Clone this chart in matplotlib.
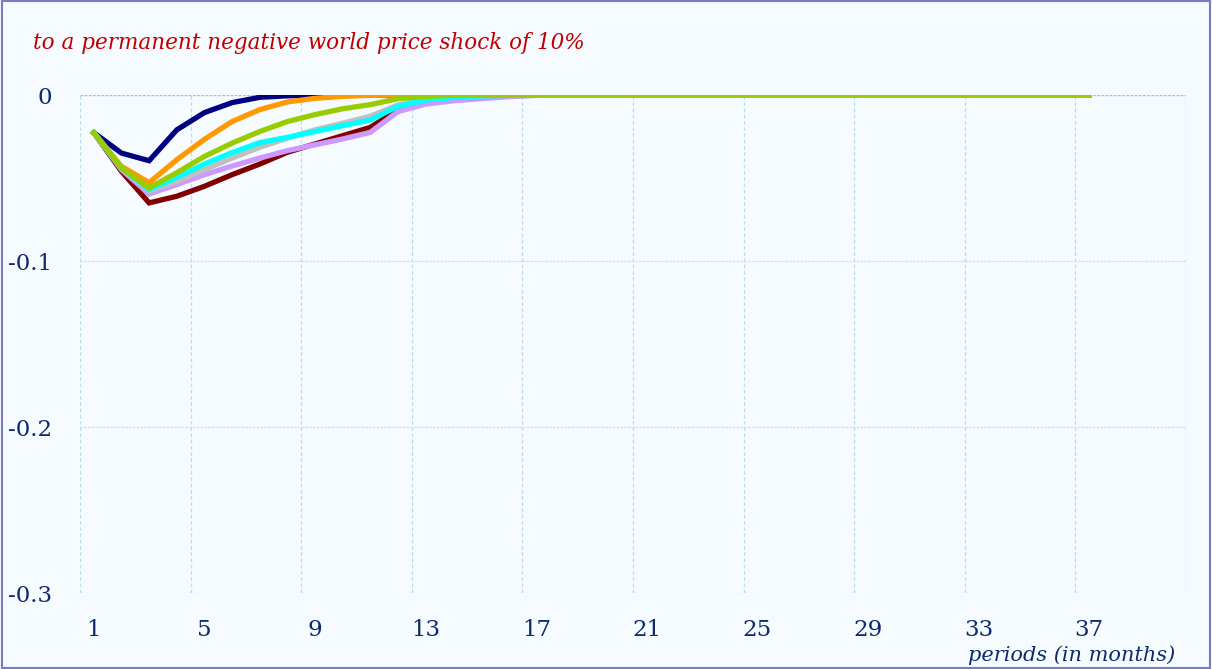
import matplotlib
matplotlib.use("Agg")
import matplotlib.pyplot as plt
from matplotlib.patches import Rectangle
import numpy as np

periods = list(range(1, 38))
n_zero = 37

def pad(vals):
    return vals + [0.0] * (n_zero - len(vals))

navy = pad([-0.0227, -0.035, -0.0396, -0.021, -0.0106, -0.0046, -0.0014, -0.0005, -0.0001])
orange = pad([-0.0227, -0.043, -0.0528, -0.039, -0.0267, -0.016, -0.0088, -0.0042, -0.002, -0.0008, -0.0002])
maroon = pad([-0.0227, -0.046, -0.065, -0.061, -0.055, -0.048, -0.0416, -0.0345, -0.0295, -0.0245, -0.0195, -0.009, -0.004, -0.002, -0.0008, -0.0002])
lavender = pad([-0.0227, -0.045, -0.0596, -0.054, -0.048, -0.0428, -0.038, -0.0335, -0.030, -0.0265, -0.0225, -0.0100, -0.0055, -0.0035, -0.0022, -0.0010, -0.0003])
gray = pad([-0.0227, -0.044, -0.058, -0.052, -0.045, -0.038, -0.0315, -0.026, -0.021, -0.017, -0.0128, -0.0060, -0.0025, -0.0010, -0.0003])
cyan = pad([-0.0227, -0.044, -0.057, -0.0496, -0.0416, -0.0347, -0.0287, -0.0255, -0.0220, -0.0185, -0.015, -0.0068, -0.003, -0.0015, -0.0006, -0.0002])
green = pad([-0.0227, -0.044, -0.056, -0.0468, -0.037, -0.029, -0.022, -0.016, -0.0118, -0.0083, -0.0058, -0.0022, -0.0008, -0.0002])

series = [
    ("navy", navy, "#000080"),
    ("orange", orange, "#FF9900"),
    ("maroon", maroon, "#800000"),
    ("lavender", lavender, "#CC99FF"),
    ("gray", gray, "#C0C0C0"),
    ("cyan", cyan, "#00FFFF"),
    ("green", green, "#99CC00"),
]

xtick_vals = [1, 5, 9, 13, 17, 21, 25, 29, 33, 37]
ytick_vals = [0, -0.1, -0.2, -0.3]
ytick_labels = ["0", "-0.1", "-0.2", "-0.3"]

title = "to a permanent negative world price shock of 10%"
xlabel = "periods (in months)"

bg = "#F5FBFF"
txt = "#0D2A6B"
serif = ["DejaVu Serif"]

fig = plt.figure(figsize=(12.12, 6.69), dpi=100, facecolor=bg)
fig.patches.append(Rectangle((0.0015, 0.002), 0.997, 0.996, transform=fig.transFigure,
                             fill=False, edgecolor="#7B7BC0", linewidth=1.5))
ax = fig.add_axes([80 / 1212, 1 - 593 / 669, (1186 - 80) / 1212, (593 - 95) / 669])
ax.set_facecolor(bg)

for name, vals, col in series:
    ax.plot(periods, vals, color=col, linewidth=3.8, solid_joinstyle="miter", zorder=3)

ax.set_xlim(0.5, 40.5)
ax.set_ylim(-0.3, 0)

for s in ax.spines.values():
    s.set_visible(False)

for xv in np.arange(0.5, 41, 4):
    ax.axvline(xv, color="#B8DDE8", linewidth=0.9, linestyle=(0, (3, 2)), zorder=1)
ax.axvline(40.5, color="#B8DDE8", linewidth=0.9, linestyle=(0, (3, 2)), zorder=1)
for yv in [-0.1, -0.2, -0.3]:
    ax.axhline(yv, color="#C5E3EE", linewidth=0.9, linestyle=(0, (2, 1)), zorder=1)
ax.axhline(0, color="#BBBBBB", linewidth=1.0, linestyle=(0, (2, 1)), zorder=1)

ax.set_xticks(xtick_vals)
ax.set_xticklabels([str(v) for v in xtick_vals], fontsize=16.5, color=txt, family=serif)
ax.set_yticks(ytick_vals)
ax.set_yticklabels(ytick_labels, fontsize=16.5, color=txt, family=serif)
ax.tick_params(axis="both", length=0)
ax.tick_params(axis="x", pad=19)
ax.tick_params(axis="y", pad=20)

fig.text(33 / 1212, 1 - 43 / 669, title, fontsize=15.5, style="italic", color="#C00000",
         family=serif, va="center", ha="left")
fig.text(1175 / 1212, 1 - 655 / 669, xlabel, fontsize=15, style="italic", color=txt,
         family=serif, va="center", ha="right")

fig.savefig("out.png", dpi=100, facecolor=bg)
